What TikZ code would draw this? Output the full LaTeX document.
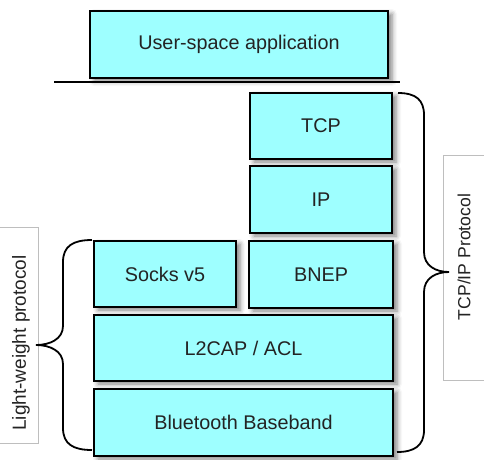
\documentclass[tikz,border=0pt]{standalone}
\usepackage{fontspec}
\setmainfont{Liberation Sans}
\usetikzlibrary{shadows.blur}
\definecolor{boxfill}{RGB}{158,255,255}
\definecolor{txt}{RGB}{35,35,35}
\definecolor{lblline}{RGB}{190,190,190}
\tikzset{
  layerbox/.style={draw=black, line width=2pt, fill=boxfill, anchor=north west,
    inner sep=0pt, text=txt, font=\fontsize{19.8}{23}\selectfont,
    blur shadow={shadow xshift=4pt, shadow yshift=-3pt, shadow blur radius=5pt, shadow opacity=50}},
  bracepath/.style={draw=black, line width=1.8pt},
  sidelbl/.style={text=txt, font=\fontsize{19}{22}\selectfont, rotate=90},
  lblframe/.style={draw=lblline, line width=0.8pt},
}
\begin{document}
\begin{tikzpicture}[x=1pt, y=-1pt]
\useasboundingbox (0,0) rectangle (484,459);
% label frames
\coordinate (lfa) at (-2,227);
\coordinate (lfb) at (38,227);
\coordinate (lfc) at (38,443);
\coordinate (lfd) at (-2,443);
\draw[lblframe] (lfa) -- (lfb) -- (lfc) -- (lfd);
\coordinate (rfa) at (486,155);
\coordinate (rfb) at (443,155);
\coordinate (rfc) at (443,380);
\coordinate (rfd) at (486,380);
\draw[lblframe] (rfa) -- (rfb) -- (rfc) -- (rfd);
\node[sidelbl] (lw) at (21,343) {Light-weight protocol};
\node[sidelbl, font=\fontsize{17.6}{21}\selectfont] (tcpip) at (464,257) {TCP/IP Protocol};
% layer boxes
\node[layerbox, minimum width=298pt, minimum height=67pt] (app) at (89,10) {User-space application};
\coordinate (sepl) at (54,82);
\coordinate (sepr) at (400,82);
\draw[line width=1.5pt] (sepl) -- (sepr);
\node[layerbox, minimum width=142pt, minimum height=66pt] (tcp) at (249,92) {TCP};
\node[layerbox, minimum width=142pt, minimum height=67pt] (ip) at (249,165) {IP};
\node[layerbox, minimum width=142pt, minimum height=66pt] (socks) at (93,240) {Socks v5};
\node[layerbox, minimum width=144pt, minimum height=67pt] (bnep) at (248,240) {BNEP};
\node[layerbox, minimum width=299pt, minimum height=66pt] (l2cap) at (93,314) {L2CAP / ACL};
\node[layerbox, minimum width=299pt, minimum height=67pt] (bb) at (93,388) {Bluetooth Baseband};
% right brace
\coordinate (rbt) at (398,93);
\coordinate (rbtip) at (449,272);
\coordinate (rbb) at (397,452);
\draw[bracepath] (rbt) .. controls (416,93) and (424,100) .. (424,115) -- (424,252)
  .. controls (424,266) and (436,272) .. (rbtip)
  .. controls (436,272) and (424,278) .. (424,292) -- (424,430)
  .. controls (424,446) and (414,452) .. (rbb);
% left brace
\coordinate (lbt) at (92,240);
\coordinate (lbtip) at (36,345);
\coordinate (lbb) at (92,450);
\draw[bracepath] (lbt) .. controls (73,240) and (63,246) .. (63,262) -- (63,326)
  .. controls (63,339) and (50,345) .. (lbtip)
  .. controls (50,345) and (63,351) .. (63,364) -- (63,428)
  .. controls (63,444) and (73,450) .. (lbb);
\end{tikzpicture}
\end{document}
